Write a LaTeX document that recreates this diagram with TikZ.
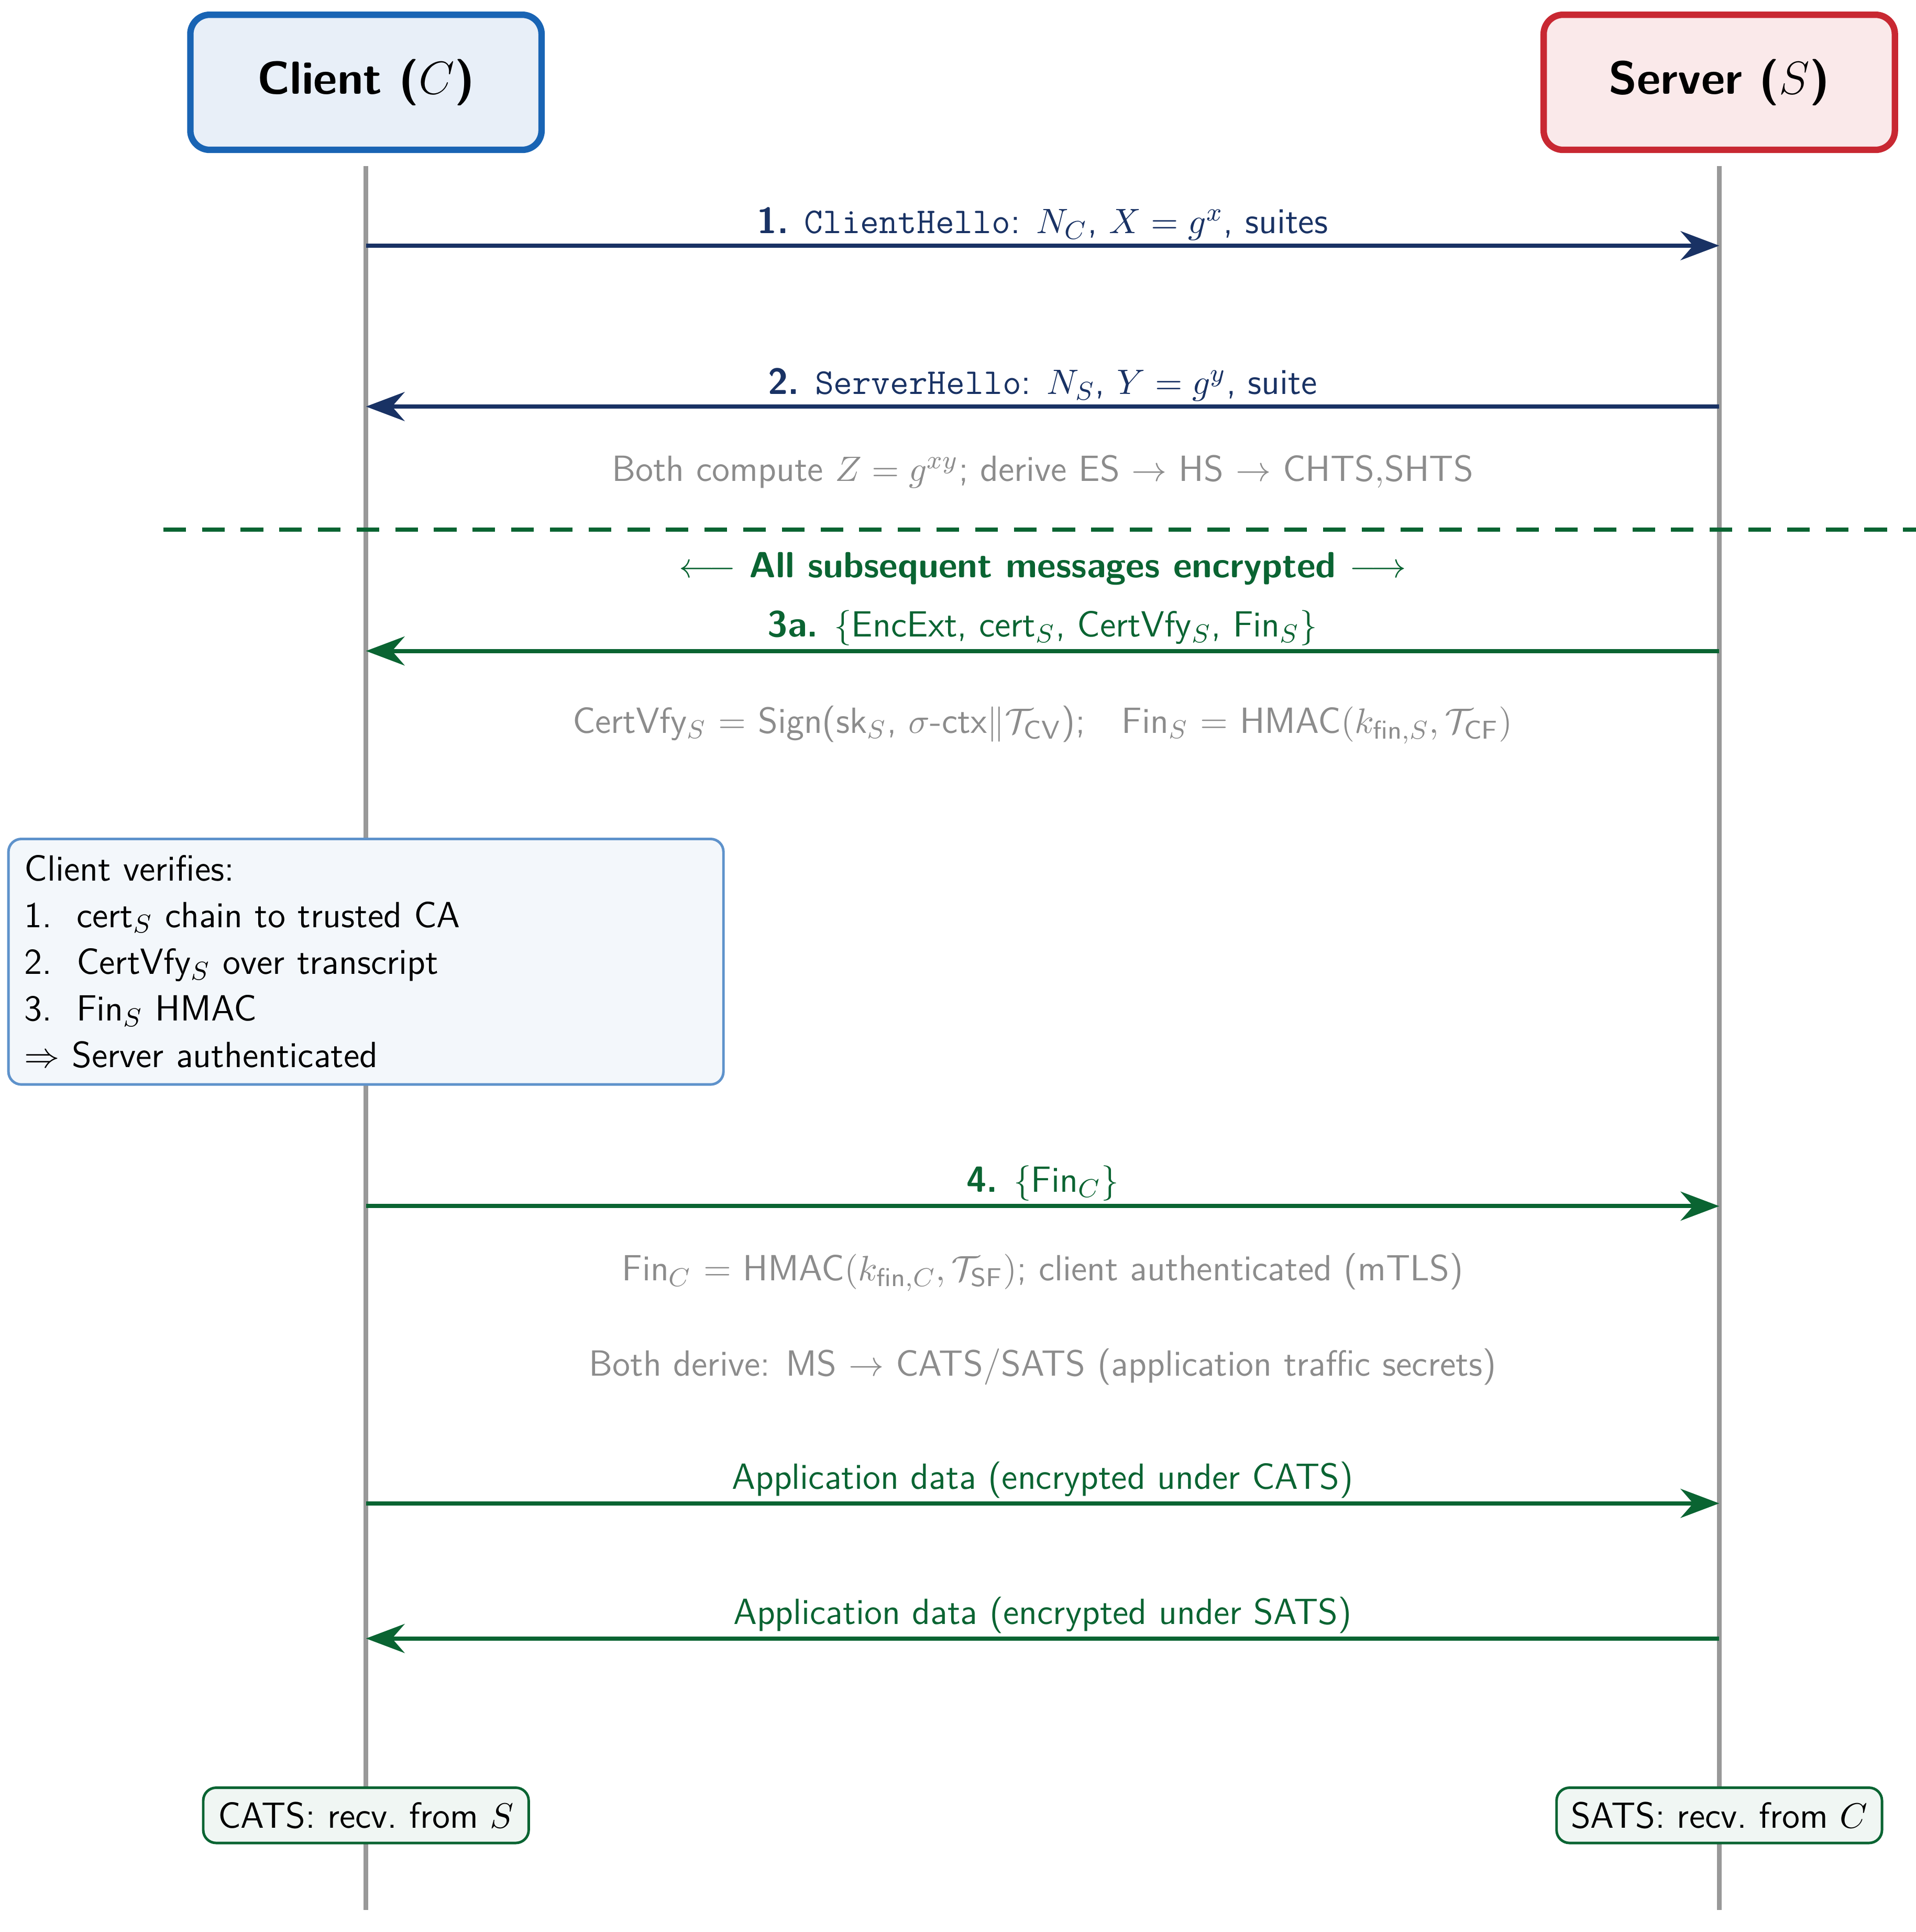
\documentclass[tikz,border=0pt]{standalone}
\usepackage{amsmath,amssymb}
\usetikzlibrary{arrows.meta}
\definecolor{navy}{RGB}{25,50,100}
\definecolor{dgreen}{RGB}{10,100,50}
\definecolor{cblue}{RGB}{25,100,180}
\definecolor{sred}{RGB}{200,40,50}
\definecolor{txtgray}{RGB}{140,140,140}
\newcommand{\mysz}{\fontsize{11.3}{14.5}\selectfont}
\begin{document}
\sffamily
\begin{tikzpicture}[x=0.0134cm,y=-0.0134cm,
 actor/.style={draw,line width=2pt,rounded corners=6pt,minimum width=286*0.0134cm,minimum height=110*0.0134cm,font=\Large\bfseries},
 life/.style={draw=gray!80,line width=1.5pt},
 msg/.style={line width=1.3pt,-{Stealth[length=12pt,width=9pt]}},
 lab/.style={fill=white,inner sep=1pt,anchor=south,font=\mysz},
 note/.style={text=txtgray,font=\mysz},
 key/.style={draw=dgreen,fill=dgreen!6,rounded corners=4pt,line width=0.8pt,minimum width=265*0.0134cm,minimum height=45*0.0134cm,font=\mysz}]
\useasboundingbox (0,0) rectangle (1560,1573);
\node[actor,draw=cblue,fill=cblue!10] (C) at (298,67) {Client ($C$)};
\node[actor,draw=sred,fill=sred!10] (S) at (1400,67) {Server ($S$)};
\coordinate (Cb) at (298,1555); \coordinate (Sb) at (1400,1555);
\coordinate (Ct) at (298,135); \coordinate (St) at (1400,135);
\draw[life] (Ct) -- (Cb); \draw[life] (St) -- (Sb);
\foreach \n/\y in {a/200,b/331,c/530,d/982,e/1224,f/1334}{
 \coordinate (C\n) at (298,\y); \coordinate (S\n) at (1400,\y);}
\draw[msg,navy] (Ca) -- node[lab,text=navy]{\textbf{1.} \texttt{ClientHello}: $N_C$, $X=g^x$, suites} (Sa);
\draw[msg,navy] (Sb) -- node[lab,text=navy]{\textbf{2.} \texttt{ServerHello}: $N_S$, $Y=g^y$, suite} (Cb);
\node[note] (n1) at (849,384) {Both compute $Z=g^{xy}$; derive ES $\to$ HS $\to$ CHTS$,$SHTS};
\coordinate (dl) at (133,431); \coordinate (dr) at (1560,431);
\draw[dgreen,line width=1.3pt,dash pattern=on 7pt off 5pt] (dl) -- (dr);
\node[text=dgreen,font=\mysz\bfseries] (enc) at (849,463) {$\longleftarrow$ All subsequent messages encrypted $\longrightarrow$};
\draw[msg,dgreen] (Sc) -- node[lab,text=dgreen]{\textbf{3a.} $\{$EncExt, cert$_S$, CertVfy$_S$, Fin$_S\}$} (Cc);
\node[note] (n2) at (849,590) {CertVfy$_S$ = Sign(sk$_S$, $\sigma$-ctx$\|\mathcal{T}_{\mathsf{CV}}$);\quad Fin$_S$ = HMAC$(k_{\mathsf{fin},S},\mathcal{T}_{\mathsf{CF}})$};
\node[draw=cblue!70,fill=cblue!5,rounded corners=4pt,line width=0.8pt,minimum width=576*0.0134cm,minimum height=167*0.0134cm,align=left,text width=556*0.0134cm,font=\mysz,inner sep=5pt] (v) at (298,783)
 {Client verifies:\\1.\ \ cert$_S$ chain to trusted CA\\2.\ \ CertVfy$_S$ over transcript\\3.\ \ Fin$_S$ HMAC\\$\Rightarrow$ Server authenticated};
\draw[msg,dgreen] (Cd) -- node[lab,text=dgreen]{\textbf{4.} $\{$Fin$_C\}$} (Sd);
\node[note] (n3) at (849,1036) {Fin$_C$ = HMAC$(k_{\mathsf{fin},C},\mathcal{T}_{\mathsf{SF}})$; client authenticated (mTLS)};
\node[note] (n4) at (849,1113) {Both derive: MS $\to$ CATS/SATS (application traffic secrets)};
\draw[msg,dgreen] (Ce) -- node[lab,text=dgreen]{Application data (encrypted under CATS)} (Se);
\draw[msg,dgreen] (Sf) -- node[lab,text=dgreen]{Application data (encrypted under SATS)} (Cf);
\node[key] (k1) at (298,1478) {CATS: recv.\ from $S$};
\node[key] (k2) at (1400,1478) {SATS: recv.\ from $C$};
\end{tikzpicture}
\end{document}
